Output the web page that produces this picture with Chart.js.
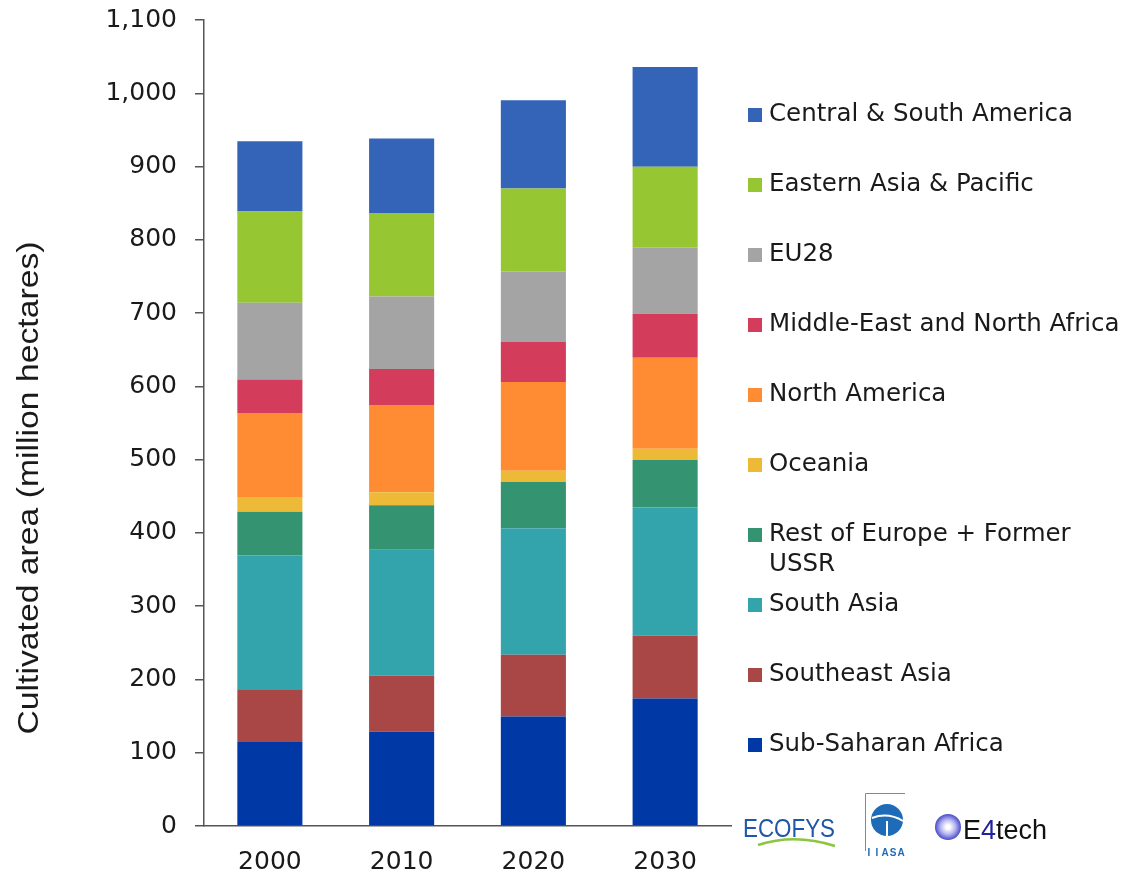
<!DOCTYPE html>
<html>
<head>
<meta charset="utf-8">
<script src="https://cdn.jsdelivr.net/npm/chart.js@4"></script>
<style>
  html, body { margin: 0; padding: 0; background: #fff; }
  #wrap { width: 1125px; height: 875px; position: relative; }
</style>
</head>
<body>
<div id="wrap"><canvas id="areaChart"></canvas></div>
<script>
// years on the x axis
const years = ["2000", "2010", "2020", "2030"];

// cultivated area per region, million hectares (bottom of the stack first)
const subSaharanAfrica = [114.5, 128.7, 149.6, 174.1];
const southeastAsia = [72, 76.8, 84.1, 85.9];
const southAsia = [183, 171.4, 172.7, 174.6];
const restOfEurope = [59.5, 60.8, 63.2, 65];
const oceania = [19, 17.8, 15.4, 15.4];
const northAmerica = [115.5, 119, 121, 124.2];
const middleEastNorthAfrica = [46, 49.2, 54.5, 60];
const eu28 = [104.6, 99, 96.3, 90.4];
const easternAsiaPacific = [124.4, 113.8, 113.2, 110];
const centralSouthAmerica = [96, 101.7, 120.6, 136.4];

const regionNames = [
  "Sub-Saharan Africa",
  "Southeast Asia",
  "South Asia",
  ["Rest of Europe + Former", "USSR"],
  "Oceania",
  "North America",
  "Middle-East and North Africa",
  "EU28",
  "Eastern Asia & Pacific",
  "Central & South America",
];
const regionColors = [
  "#0039a6", "#a94646", "#34a4ac", "#349471", "#ecba36",
  "#ff8c33", "#d33d5b", "#a3a4a3", "#97c633", "#3464b8",
];

const yTickMax = 1100;
const yTickStep = 100;
const yTitle = "Cultivated area (million hectares)";

const seriesValues = [
  subSaharanAfrica, southeastAsia, southAsia, restOfEurope, oceania,
  northAmerica, middleEastNorthAfrica, eu28, easternAsiaPacific, centralSouthAmerica,
];

const tickFont = { family: "'DejaVu Sans', Verdana, sans-serif", size: 25 };
const textColor = "#1a1a1a";
const axisColor = "#555555";

// legend, axis title and partner logos drawn on the canvas
const extrasPlugin = {
  id: "extras",
  afterDraw(chart) {
    const ctx = chart.ctx;
    ctx.save();

    // y axis title (rotated)
    ctx.translate(30, 488);
    ctx.rotate(-Math.PI / 2);
    ctx.font = "30px 'Liberation Sans', Arial, sans-serif";
    const w = ctx.measureText(yTitle).width;
    ctx.scale(493 / w, 1);
    ctx.fillStyle = textColor;
    ctx.textAlign = "center";
    ctx.textBaseline = "middle";
    ctx.fillText(yTitle, 0, 0);
    ctx.restore();

    // legend, top entry is the top of the stack
    ctx.save();
    ctx.font = "24.5px 'DejaVu Sans', Verdana, sans-serif";
    ctx.textBaseline = "middle";
    ctx.textAlign = "left";
    const ds = chart.data.datasets;
    for (let i = ds.length - 1, row = 0; i >= 0; i--, row++) {
      const y = 115 + row * 70;
      ctx.fillStyle = ds[i].backgroundColor;
      ctx.fillRect(748, y - 7, 14, 14);
      ctx.fillStyle = textColor;
      const lines = [].concat(regionNames[i]);
      lines.forEach((ln, k) => ctx.fillText(ln, 769, y + k * 30));
    }
    ctx.restore();

    // ECOFYS logo
    ctx.save();
    ctx.font = "26px 'Liberation Sans', Arial, sans-serif";
    ctx.fillStyle = "#1f56a8";
    ctx.textBaseline = "alphabetic";
    const ew = ctx.measureText("ECOFYS").width;
    ctx.translate(743, 837);
    ctx.scale(92 / ew, 1);
    ctx.fillText("ECOFYS", 0, 0);
    ctx.restore();
    ctx.save();
    ctx.strokeStyle = "#8cc63f";
    ctx.lineWidth = 2.5;
    ctx.beginPath();
    ctx.moveTo(758, 845);
    ctx.quadraticCurveTo(795, 833, 835, 846);
    ctx.stroke();
    ctx.restore();

    // IIASA logo
    ctx.save();
    ctx.strokeStyle = "#5b8fd0";
    ctx.lineWidth = 1;
    ctx.beginPath();
    ctx.moveTo(865.5, 851);
    ctx.lineTo(865.5, 793.5);
    ctx.lineTo(905, 793.5);
    ctx.stroke();
    ctx.fillStyle = "#1e6bb8";
    ctx.beginPath();
    ctx.arc(887, 820, 16, 0, Math.PI * 2);
    ctx.fill();
    ctx.strokeStyle = "#ffffff";
    ctx.lineWidth = 2;
    ctx.beginPath();
    ctx.moveTo(872, 818);
    ctx.quadraticCurveTo(888, 812, 903, 821);
    ctx.moveTo(887, 821);
    ctx.lineTo(887, 836);
    ctx.stroke();
    ctx.fillStyle = "#1e6bb8";
    ctx.font = "bold 10px 'Liberation Sans', Arial, sans-serif";
    ctx.textAlign = "center";
    ctx.textBaseline = "middle";
    ["I", "I", "A", "S", "A"].forEach((c, k) => ctx.fillText(c, 869 + k * 8, 853));
    ctx.restore();

    // E4tech logo
    ctx.save();
    const g = ctx.createRadialGradient(948, 827, 2, 948, 827, 13);
    g.addColorStop(0, "#ffffff");
    g.addColorStop(0.5, "#b4b4f0");
    g.addColorStop(1, "#4a4ac8");
    ctx.fillStyle = g;
    ctx.beginPath();
    ctx.arc(948, 827, 13, 0, Math.PI * 2);
    ctx.fill();
    ctx.font = "27px 'Liberation Sans', Arial, sans-serif";
    ctx.textBaseline = "alphabetic";
    let x = 963;
    [["E", "#111111"], ["4", "#22229c"], ["tech", "#111111"]].forEach(([t, c]) => {
      ctx.fillStyle = c;
      ctx.fillText(t, x, 839);
      x += ctx.measureText(t).width;
    });
    ctx.restore();
  },
};

new Chart(document.getElementById("areaChart"), {
  type: "bar",
  data: {
    labels: years,
    datasets: seriesValues.map((vals, i) => ({
      label: [].concat(regionNames[i]).join(" "),
      data: vals,
      backgroundColor: regionColors[i],
      borderWidth: 0,
      categoryPercentage: 1,
      barPercentage: 0.494,
    })),
  },
  options: {
    responsive: true,
    maintainAspectRatio: false,
    animation: false,
    layout: { padding: { top: 20, right: 394, bottom: 0, left: 0 } },
    plugins: {
      legend: { display: false },
      tooltip: { enabled: false },
    },
    scales: {
      x: {
        stacked: true,
        grid: { display: false, drawTicks: false },
        border: { display: true, color: axisColor, width: 1.5 },
        ticks: { font: tickFont, color: textColor, padding: 21 },
        afterFit(scale) { scale.height = 49; scale.paddingLeft = 0; scale.paddingRight = 0; },
      },
      y: {
        stacked: true,
        min: 0,
        max: yTickMax,
        grid: { drawOnChartArea: false, tickLength: 9, color: axisColor, lineWidth: 1.5 },
        border: { display: true, color: axisColor, width: 1.5 },
        ticks: { stepSize: yTickStep, font: tickFont, color: textColor, padding: 18 },
        afterFit(scale) { scale.width = 204; scale.paddingTop = 0; scale.paddingBottom = 0; },
      },
    },
  },
  plugins: [extrasPlugin],
});
</script>
</body>
</html>
